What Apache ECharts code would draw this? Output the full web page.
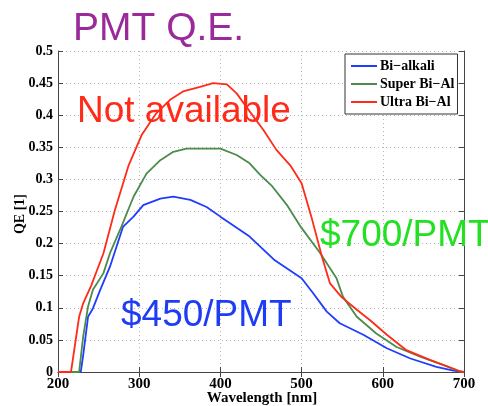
<!DOCTYPE html>
<html>
<head>
<meta charset="utf-8">
<script src="https://cdn.jsdelivr.net/npm/echarts@6/dist/echarts.min.js"></script>
<style>
  html, body { margin: 0; padding: 0; background: #fff; }
  #chart { width: 488px; height: 406px; }
</style>
</head>
<body>
<div id="chart"></div>
<script>
// Photocathode quantum efficiency versus wavelength
const seriesNames = ['Bi\u2212alkali', 'Super Bi\u2212Al', 'Ultra Bi\u2212Al'];
const xTicks = [200, 300, 400, 500, 600, 700];

const bialkaliWl = [200, 228, 231, 237, 243, 252, 264, 280, 293, 305, 326, 342, 363, 383, 400, 436, 467, 500, 514, 531, 547, 576, 605, 634, 666, 687, 700];
const bialkaliQe = [0, 0, 0.026, 0.086, 0.099, 0.128, 0.164, 0.226, 0.242, 0.260, 0.270, 0.273, 0.268, 0.257, 0.242, 0.211, 0.174, 0.146, 0.123, 0.094, 0.076, 0.058, 0.037, 0.021, 0.008, 0.002, 0];

const superWl = [200, 226, 231, 237, 243, 256, 264, 278, 293, 309, 326, 342, 358, 400, 420, 436, 449, 464, 482, 499, 523, 543, 551, 568, 592, 617, 646, 674, 695, 700];
const superQe = [0, 0, 0.055, 0.102, 0.128, 0.154, 0.185, 0.226, 0.273, 0.309, 0.330, 0.343, 0.348, 0.348, 0.338, 0.325, 0.307, 0.289, 0.260, 0.226, 0.185, 0.146, 0.117, 0.086, 0.060, 0.039, 0.024, 0.011, 0.001, 0];

const ultraWl = [200, 216, 226, 231, 241, 256, 270, 287, 303, 321, 338, 354, 375, 391, 408, 420, 436, 453, 469, 486, 500, 512, 525, 535, 549, 568, 584, 605, 629, 658, 683, 697, 700];
const ultraQe = [0, 0, 0.086, 0.107, 0.135, 0.185, 0.252, 0.322, 0.369, 0.403, 0.424, 0.437, 0.444, 0.450, 0.448, 0.434, 0.406, 0.377, 0.346, 0.322, 0.294, 0.242, 0.180, 0.138, 0.117, 0.097, 0.081, 0.058, 0.034, 0.019, 0.007, 0, 0];

const lineColors = ['#1f3cff', '#4b8b4b', '#ff2b18'];

function pairs(xs, ys) { return xs.map((x, i) => [x, ys[i]]); }

const serifBold = { fontFamily: 'Liberation Serif', fontWeight: 'bold', color: '#000' };
const frameLine = { show: true, lineStyle: { color: '#444', width: 1 } };
const innerTick = { show: true, inside: true, length: 5, lineStyle: { color: '#444' } };

const chart = echarts.init(document.getElementById('chart'), null, { renderer: 'canvas' });
chart.setOption({
  animation: false,
  backgroundColor: '#fff',
  grid: { left: 58, top: 51, width: 406, height: 321, containLabel: false },
  xAxis: [
    {
      type: 'value', min: xTicks[0], max: xTicks[xTicks.length - 1], interval: 100,
      position: 'bottom',
      axisLine: frameLine, axisTick: innerTick,
      axisLabel: Object.assign({ fontSize: 15, margin: 5 }, serifBold),
      splitLine: { show: true, lineStyle: { color: '#b5b5b5', type: [1, 3], width: 1 } }
    },
    {
      type: 'value', min: xTicks[0], max: xTicks[xTicks.length - 1], interval: 100,
      position: 'top',
      axisLine: frameLine, axisTick: innerTick,
      axisLabel: { show: false }, splitLine: { show: false }
    }
  ],
  yAxis: [
    {
      type: 'value', min: 0, max: 0.5, interval: 0.05,
      position: 'left',
      axisLine: frameLine, axisTick: innerTick,
      axisLabel: Object.assign({ fontSize: 14, margin: 5 }, serifBold),
      splitLine: { show: true, lineStyle: { color: '#b5b5b5', type: [1, 3], width: 1 } }
    },
    {
      type: 'value', min: 0, max: 0.5, interval: 0.05,
      position: 'right',
      axisLine: frameLine, axisTick: innerTick,
      axisLabel: { show: false }, splitLine: { show: false }
    }
  ],
  legend: {
    orient: 'vertical',
    left: 345, top: 54,
    backgroundColor: '#fff',
    borderColor: '#333', borderWidth: 1, borderRadius: 0,
    padding: [5, 3, 5, 6],
    itemGap: 4,
    itemWidth: 26, itemHeight: 2,
    icon: 'rect',
    textStyle: Object.assign({ fontSize: 14, lineHeight: 14, padding: [0, 0, 0, -2] }, serifBold),
    data: seriesNames
  },
  series: [
    { name: seriesNames[0], type: 'line', data: pairs(bialkaliWl, bialkaliQe) },
    { name: seriesNames[1], type: 'line', data: pairs(superWl, superQe) },
    { name: seriesNames[2], type: 'line', data: pairs(ultraWl, ultraQe) }
  ].map((s, i) => Object.assign(s, {
    showSymbol: false, symbol: 'none',
    lineStyle: { color: lineColors[i], width: 1.8 },
    itemStyle: { color: lineColors[i] }
  })),
  graphic: [
    { type: 'text', z: 10, style: { x: 73, y: 49, text: 'PMT Q.E.', fontFamily: 'Liberation Sans', fontSize: 39, fill: '#9a2a9a', verticalAlign: 'bottom' } },
    { type: 'text', z: 10, style: { x: 77, y: 130, text: 'Not available', fontFamily: 'Liberation Sans', fontSize: 37, fill: '#ff2b18', verticalAlign: 'bottom' } },
    { type: 'text', z: 10, style: { x: 121, y: 334, text: '$450/PMT', fontFamily: 'Liberation Sans', fontSize: 37, fill: '#1f3cf5', verticalAlign: 'bottom' } },
    { type: 'text', z: 10, style: { x: 320, y: 254, text: '$700/PMT', fontFamily: 'Liberation Sans', fontSize: 37, fill: '#22e022', verticalAlign: 'bottom' } },
    { type: 'text', z: 10, rotation: Math.PI / 2, x: 20, y: 214, style: { x: 0, y: 0, text: 'QE [1]', fontFamily: 'Liberation Serif', fontWeight: 'bold', fontSize: 14, fill: '#000', align: 'center', verticalAlign: 'middle' } },
    { type: 'text', z: 10, style: { x: 262, y: 398, text: 'Wavelength [nm]', fontFamily: 'Liberation Serif', fontWeight: 'bold', fontSize: 15, fill: '#000', align: 'center', verticalAlign: 'middle' } }
  ]
});
</script>
</body>
</html>
